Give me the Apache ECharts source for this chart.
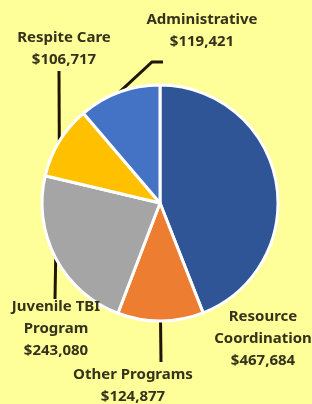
<!DOCTYPE html>
<html>
<head>
<meta charset="utf-8">
<script src="https://cdn.jsdelivr.net/npm/echarts@6/dist/echarts.min.js"></script>
<style>
  html, body { margin: 0; padding: 0; background: #FFFF99; }
  #chart { width: 312px; height: 404px; }
</style>
</head>
<body>
<div id="chart"></div>
<script>
// budget categories, clockwise from 12 o'clock
const categories = ['Resource\nCoordination', 'Other Programs', 'Juvenile TBI\nProgram', 'Respite Care', 'Administrative']
const amounts = [467684, 124877, 243080, 106717, 119421]
const colors = ['#2F5597', '#ED7D31', '#A5A5A5', '#FFC000', '#4472C4']

// label centres and leader line bends (layout only)
const labelPos = [[263, 339], [133, 386], [56, 329], [64, 49], [202, 31]]
const lineEnds = [null, [[161, 362]], [[55, 299]], [[59, 71]], [[152, 62], [163, 62]]]

const center = [160, 203]
const radius = 118

// point on the pie rim at the middle of a slice
const rimPoint = idx => {
  const total = amounts.reduce((a, b) => a + b, 0)
  let before = 0
  for (let i = 0; i < idx; i++) before += amounts[i]
  const mid = (before + amounts[idx] / 2) / total * Math.PI * 2
  return [center[0] + radius * Math.sin(mid), center[1] - radius * Math.cos(mid)]
}

const money = v => '$' + v.toLocaleString('en-US')

var myChart = echarts.init(document.getElementById('chart'))

var option = {
  backgroundColor: '#FFFF99',
  animation: false,
  series: [
    {
      type: 'pie',
      center: center,
      radius: radius,
      startAngle: 90,
      clockwise: true,
      avoidLabelOverlap: false,
      itemStyle: { borderColor: '#fff', borderWidth: 3 },
      label: {
        show: true,
        position: 'outside',
        alignTo: 'none',
        overflow: 'none',
        formatter: p => p.name + '\n' + money(p.value),
        fontFamily: 'Noto Sans',
        fontWeight: 'bold',
        fontSize: 15,
        lineHeight: 22,
        color: '#35321a',
        align: 'center'
      },
      labelLine: {
        show: true,
        lineStyle: { color: '#1e1608', width: 3 }
      },
      labelLayout: params => {
        const i = params.dataIndex
        const out = {
          x: labelPos[i][0],
          y: labelPos[i][1],
          align: 'center',
          verticalAlign: 'middle',
          moveOverlap: false,
          hideOverlap: false
        }
        if (lineEnds[i]) {
          const pts = [rimPoint(i)].concat(lineEnds[i])
          if (pts.length === 2) pts.push(pts[1])
          out.labelLinePoints = pts
        }
        return out
      },
      data: categories.map((c, i) => ({
        name: c,
        value: amounts[i],
        itemStyle: { color: colors[i] },
        labelLine: { show: lineEnds[i] !== null }
      }))
    }
  ]
}

myChart.setOption(option)

window.addEventListener('resize', () => {
  myChart.resize()
})
</script>
</body>
</html>
